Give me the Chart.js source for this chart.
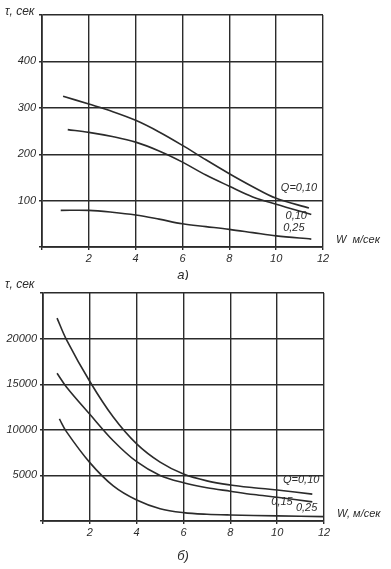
<!DOCTYPE html>
<html>
<head>
<meta charset="utf-8">
<script src="https://cdn.jsdelivr.net/npm/chart.js@4"></script>
<style>
  body { margin: 0; background: #fff; width: 391px; height: 569px; position: relative; overflow: hidden; }
  .box { position: absolute; left: 0; width: 391px; }
</style>
</head>
<body>
<div class="box" style="top:0;height:280px"><canvas id="chart_a"></canvas></div>
<div class="box" style="top:280px;height:289px"><canvas id="chart_b"></canvas></div>
<script>

// --- chart a) : time vs wind speed, short times
const windA1 = [0.9, 2, 3, 4, 5, 6, 7, 8, 9, 10, 11.4];
const timeA1 = [325, 308, 292, 273, 248, 219, 188, 158, 130, 105, 84];
const windA2 = [1.1, 2, 3, 4, 5, 6, 7, 8, 9, 10, 11.5];
const timeA2 = [253, 247, 238, 226, 207, 183, 155, 131, 108, 92, 70];
const windA3 = [0.8, 2, 3, 4, 5, 6, 7, 8, 9, 10, 11.5];
const timeA3 = [79, 79, 75, 69, 60, 50, 44, 38, 31, 24, 17];
const labelsA = ['Q=0,10', '0,10', '0,25'];

// --- chart б) : time vs wind speed, long times
const windB1 = [0.6, 1, 2, 3, 4, 5, 6, 7, 8, 9, 10, 11.5];
const timeB1 = [22250, 19900, 15300, 11400, 8450, 6450, 5150, 4400, 3950, 3650, 3400, 2950];
const windB2 = [0.6, 1, 2, 3, 4, 5, 6, 7, 8, 9, 10, 11.5];
const timeB2 = [16200, 14700, 11700, 8800, 6500, 5000, 4200, 3650, 3270, 2900, 2600, 2100];
const windB3 = [0.7, 1, 2, 3, 4, 5, 6, 7, 8, 10, 12];
const timeB3 = [11200, 9800, 6400, 3850, 2300, 1350, 920, 740, 660, 560, 480];
const labelsB = ['Q=0,10', '0,15', '0,25'];

const ink = '#2b2b2b';
const fontItalic = { family: 'Liberation Sans', size: 11, style: 'italic' };

const toPoints = (xs, ys) => xs.map((x, i) => ({ x: x, y: ys[i] }));

const curve = (xs, ys) => ({
  data: toPoints(xs, ys),
  borderColor: ink,
  borderWidth: 1.6,
  pointRadius: 0,
  showLine: true,
  tension: 0.35
});

// draws the curve labels, axis names and the a)/б) captions
const notes = {
  id: 'notes',
  afterDraw(chart, args, opts) {
    const ctx = chart.ctx;
    const sx = chart.scales.x, sy = chart.scales.y;
    ctx.save();
    ctx.fillStyle = ink;
    ctx.textBaseline = 'middle';
    ctx.textAlign = 'left';
    ctx.font = 'italic 11px "Liberation Sans"';
    opts.tags.forEach(t => {
      ctx.fillText(t.text, sx.getPixelForValue(t.x), sy.getPixelForValue(t.y));
    });
    ctx.font = 'italic 12px "Liberation Sans"';
    ctx.fillText(opts.yName, 5, opts.yNameY);
    ctx.font = 'italic 11px "Liberation Sans"';
    ctx.fillText(opts.xName, chart.chartArea.right + 13, chart.chartArea.bottom - 7);
    ctx.font = 'italic 13px "Liberation Sans"';
    ctx.textAlign = 'center';
    ctx.fillText(opts.caption, 183, opts.captionY);
    ctx.restore();
  }
};

const makeChart = (id, sets, yMax, yStep, pad, yWidth, xHeight, noteOpts) => {
  return new Chart(document.getElementById(id), {
    type: 'scatter',
    data: { datasets: sets },
    plugins: [notes],
    options: {
      responsive: true,
      maintainAspectRatio: false,
      animation: false,
      layout: { padding: pad },
      plugins: { legend: { display: false }, tooltip: { enabled: false }, notes: noteOpts },
      scales: {
        x: {
          min: 0, max: 12,
          afterFit: (s) => { s.height = xHeight; },
          ticks: {
            stepSize: 2, color: ink, font: fontItalic, padding: 2,
            maxRotation: 0,
            callback: (v) => v === 0 ? '' : String(v)
          },
          grid: { color: ink, lineWidth: 1.4, tickLength: 3 },
          border: { color: ink, width: 1.7 }
        },
        y: {
          min: 0, max: yMax,
          afterFit: (s) => { s.width = yWidth; },
          ticks: {
            stepSize: yStep, color: ink, font: fontItalic, padding: 3,
            callback: (v) => (v === 0 || v === yMax) ? '' : String(v)
          },
          grid: { color: ink, lineWidth: 1.4, tickLength: 3 },
          border: { color: ink, width: 1.7 }
        }
      }
    }
  });
};

makeChart('chart_a',
  [curve(windA1, timeA1), curve(windA2, timeA2), curve(windA3, timeA3)],
  500, 100, { top: 15, right: 68, bottom: 0, left: 0 }, 42, 33,
  {
    tags: [
      { text: labelsA[0], x: 10.2, y: 127 },
      { text: labelsA[1], x: 10.4, y: 67 },
      { text: labelsA[2], x: 10.3, y: 41 }
    ],
    yName: 'τ, сек', yNameY: 12,
    xName: 'W  м/сек',
    caption: 'а)', captionY: 275
  });

makeChart('chart_b',
  [curve(windB1, timeB1), curve(windB2, timeB2), curve(windB3, timeB3)],
  25000, 5000, { top: 13, right: 67, bottom: 0, left: 0 }, 43, 48,
  {
    tags: [
      { text: labelsB[0], x: 10.25, y: 4500 },
      { text: labelsB[1], x: 9.75, y: 2100 },
      { text: labelsB[2], x: 10.8, y: 1400 }
    ],
    yName: 'τ, сек', yNameY: 5,
    xName: 'W, м/сек',
    caption: 'б)', captionY: 276
  });

</script>
</body>
</html>
